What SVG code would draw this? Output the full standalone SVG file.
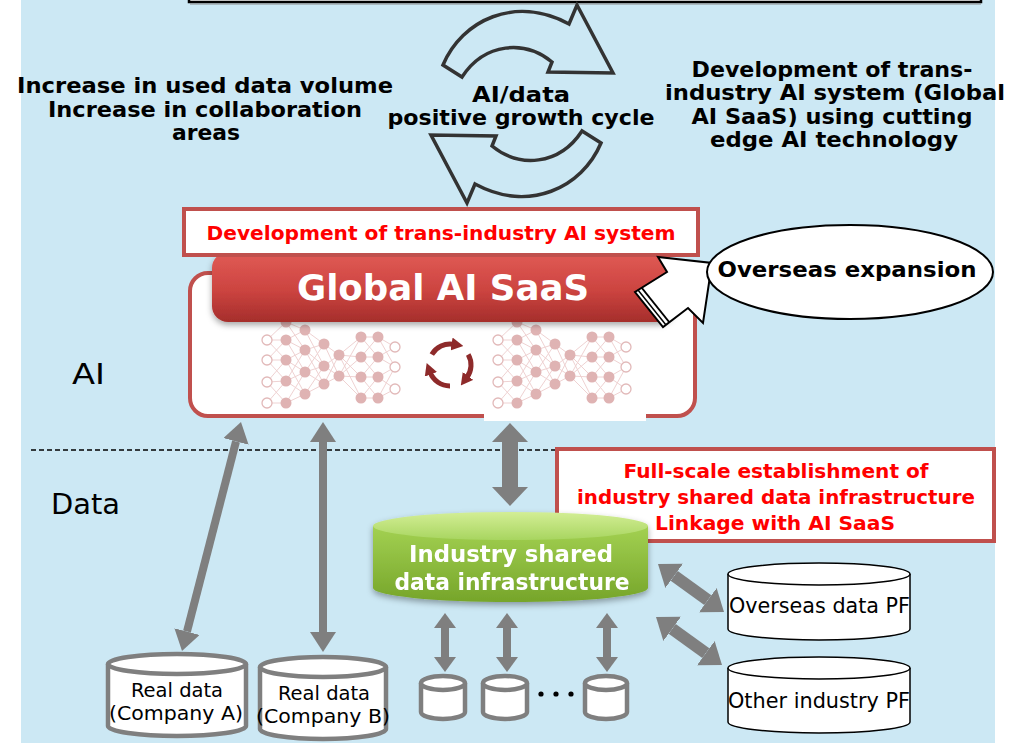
<svg xmlns="http://www.w3.org/2000/svg" width="1009" height="743" viewBox="0 0 1009 743">
  <defs>
    <style>
      .b { font-family: "DejaVu Sans", "Liberation Sans", sans-serif; font-weight: bold; }
      .n { font-family: "DejaVu Sans", "Liberation Sans", sans-serif; }
      .redbox { fill: #ffffff; stroke: #c0504d; stroke-width: 4; }
      .redtxt { fill: #ff0000; font-size: 20px; }
      .cycle { fill: #cce8f4; stroke: #333333; stroke-width: 3.5; stroke-linejoin: miter; }
      .conn { stroke: #7f7f7f; fill: none; }
      .gcyl { fill: #ffffff; stroke: #7f7f7f; stroke-width: 4.5; }
      .kcyl { fill: #ffffff; stroke: #000000; stroke-width: 1.5; }
      .nnl { stroke: #efd2d2; stroke-width: 1; fill: none; }
      .nnf { fill: #dfb3b3; }
      .nnh { fill: #ffffff; stroke: #e2b9b9; stroke-width: 1.3; }
    </style>
    <linearGradient id="barGrad" x1="0" y1="0" x2="0" y2="1">
      <stop offset="0" stop-color="#e15b56"/>
      <stop offset="0.55" stop-color="#cc4440"/>
      <stop offset="1" stop-color="#a52e2b"/>
    </linearGradient>
    <linearGradient id="greenBody" x1="0" y1="0" x2="0" y2="1">
      <stop offset="0" stop-color="#a3d152"/>
      <stop offset="1" stop-color="#76a52a"/>
    </linearGradient>
    <linearGradient id="greenCap" x1="0" y1="0" x2="0" y2="1">
      <stop offset="0" stop-color="#d3ee95"/>
      <stop offset="1" stop-color="#a8d560"/>
    </linearGradient>
    <filter id="shadow" x="-10%" y="-20%" width="120%" height="150%">
      <feDropShadow dx="0" dy="3" stdDeviation="3" flood-color="#000000" flood-opacity="0.35"/>
    </filter>
    <marker id="headL" markerUnits="userSpaceOnUse" markerWidth="20" markerHeight="26" refX="0" refY="13" orient="auto-start-reverse">
      <path d="M0,0 L20,13 L0,26 Z" fill="#7f7f7f"/>
    </marker>
    <marker id="headXL" markerUnits="userSpaceOnUse" markerWidth="19" markerHeight="36" refX="0" refY="18" orient="auto-start-reverse">
      <path d="M0,0 L19,18 L0,36 Z" fill="#7f7f7f"/>
    </marker>
    <marker id="headS" markerUnits="userSpaceOnUse" markerWidth="15" markerHeight="22" refX="0" refY="11" orient="auto-start-reverse">
      <path d="M0,0 L15,11 L0,22 Z" fill="#7f7f7f"/>
    </marker>
    <marker id="headD" markerUnits="userSpaceOnUse" markerWidth="20" markerHeight="30" refX="0" refY="15" orient="auto-start-reverse">
      <path d="M0,0 L20,15 L0,30 Z" fill="#7f7f7f"/>
    </marker>
    <marker id="spin" markerUnits="userSpaceOnUse" markerWidth="12" markerHeight="13" refX="2" refY="6.5" orient="auto">
      <path d="M0,0 L12,6.5 L0,13 Z" fill="#8e2a2a"/>
    </marker>
    <!-- faint neural network motif -->
    <g id="nn">
      <path class="nnl" d="M267,340L286,322 M267,340L286,340 M267,340L286,360 M267,360L286,340 M267,360L286,360 M267,360L286,381 M267,382L286,360 M267,382L286,381 M267,382L286,403 M267,403L286,381 M267,403L286,403
        M286,322L305,330 M286,322L305,350 M286,340L305,330 M286,340L305,350 M286,340L305,372 M286,360L305,350 M286,360L305,372 M286,360L305,394 M286,381L305,350 M286,381L305,372 M286,381L305,394 M286,403L305,372 M286,403L305,394
        M305,330L324,344 M305,330L324,366 M305,350L324,344 M305,350L324,366 M305,350L324,384 M305,372L324,344 M305,372L324,366 M305,372L324,384 M305,394L324,366 M305,394L324,384
        M324,344L339,355 M324,344L339,376 M324,366L339,355 M324,366L339,376 M324,384L339,355 M324,384L339,376
        M339,355L361,337 M339,355L361,357 M339,355L361,377 M339,355L361,398 M339,376L361,337 M339,376L361,357 M339,376L361,377 M339,376L361,398
        M361,337L378,337 M361,337L378,357 M361,357L378,337 M361,357L378,357 M361,357L378,377 M361,377L378,357 M361,377L378,377 M361,377L378,398 M361,398L378,377 M361,398L378,398
        M378,337L395,347 M378,337L395,367 M378,357L395,347 M378,357L395,367 M378,377L395,367 M378,377L395,389 M378,398L395,367 M378,398L395,389"/>
      <g class="nnh">
        <circle cx="267" cy="340" r="5"/><circle cx="267" cy="360" r="5"/><circle cx="267" cy="382" r="5"/><circle cx="267" cy="403" r="5"/>
        <circle cx="395" cy="347" r="5"/><circle cx="395" cy="367" r="5"/><circle cx="395" cy="389" r="5"/>
      </g>
      <g class="nnf">
        <circle cx="286" cy="322" r="5.5"/><circle cx="286" cy="340" r="5.5"/><circle cx="286" cy="360" r="5.5"/><circle cx="286" cy="381" r="5.5"/><circle cx="286" cy="403" r="5.5"/>
        <circle cx="305" cy="330" r="5.5"/><circle cx="305" cy="350" r="5.5"/><circle cx="305" cy="372" r="5.5"/><circle cx="305" cy="394" r="5.5"/>
        <circle cx="324" cy="344" r="5.5"/><circle cx="324" cy="366" r="5.5"/><circle cx="324" cy="384" r="5.5"/>
        <circle cx="339" cy="355" r="5.5"/><circle cx="339" cy="376" r="5.5"/>
        <circle cx="361" cy="337" r="5.5"/><circle cx="361" cy="357" r="5.5"/><circle cx="361" cy="377" r="5.5"/><circle cx="361" cy="398" r="5.5"/>
        <circle cx="378" cy="337" r="5.5"/><circle cx="378" cy="357" r="5.5"/><circle cx="378" cy="377" r="5.5"/><circle cx="378" cy="398" r="5.5"/>
      </g>
    </g>
  </defs>

  <!-- background panel -->
  <rect x="0" y="0" width="1009" height="743" fill="#ffffff"/>
  <rect x="21" y="0" width="974" height="743" fill="#cce8f4"/>

  <!-- heading frame cut off at the top edge -->
  <g id="top-frame">
    <rect x="189" y="-10" width="792" height="12" fill="#ffffff" stroke="#000000" stroke-width="2.5"/>
    <line x1="190" y1="4" x2="981" y2="4" stroke="#8a8a8a" stroke-width="1"/>
  </g>

  <!-- AI/data growth cycle -->
  <g id="growth-cycle">
    <path class="cycle" d="M443,65 C462,20 515,-5 569,24 L577,5 L613,73 L548,72 L552,62 C525,40 485,42 462,77 Z"/>
    <path class="cycle" transform="rotate(180 522 104)" d="M443,65 C462,20 515,-5 569,24 L577,5 L613,73 L548,72 L552,62 C525,40 485,42 462,77 Z"/>
    <text class="b" font-size="21" text-anchor="middle" x="521" y="102" textLength="98" lengthAdjust="spacingAndGlyphs">AI/data</text>
    <text class="b" font-size="21" text-anchor="middle" x="521" y="125" textLength="267" lengthAdjust="spacingAndGlyphs">positive growth cycle</text>
  </g>

  <g id="left-note">
    <text class="b" font-size="22" text-anchor="middle" x="205" y="93" textLength="376" lengthAdjust="spacingAndGlyphs">Increase in used data volume</text>
    <text class="b" font-size="22" text-anchor="middle" x="205" y="117" textLength="314" lengthAdjust="spacingAndGlyphs">Increase in collaboration</text>
    <text class="b" font-size="22" text-anchor="middle" x="206" y="140" textLength="68" lengthAdjust="spacingAndGlyphs">areas</text>
  </g>

  <g id="right-note">
    <text class="b" font-size="22" text-anchor="middle" x="832" y="77" textLength="281" lengthAdjust="spacingAndGlyphs">Development of trans-</text>
    <text class="b" font-size="22" text-anchor="middle" x="835" y="100" textLength="340" lengthAdjust="spacingAndGlyphs">industry AI system (Global</text>
    <text class="b" font-size="22" text-anchor="middle" x="832" y="124" textLength="281" lengthAdjust="spacingAndGlyphs">AI SaaS) using cutting</text>
    <text class="b" font-size="22" text-anchor="middle" x="834" y="147" textLength="248" lengthAdjust="spacingAndGlyphs">edge AI technology</text>
  </g>

  <!-- AI layer container -->
  <g id="ai-saas">
    <rect x="190" y="273" width="505" height="143" rx="18" fill="#ffffff" stroke="#c0504d" stroke-width="4"/>
    <rect x="484" y="405" width="162" height="16" fill="#ffffff"/>
    <use href="#nn"/>
    <use href="#nn" transform="translate(231 0)"/>
    <g fill="none" stroke="#8e2a2a" stroke-width="5">
      <path d="M431.8,354.5 A21,21 0 0 1 453.5,344.3" marker-end="url(#spin)"/>
      <path d="M468.2,354.5 A21,21 0 0 1 466.8,377.6" marker-end="url(#spin)"/>
      <path d="M450,386 A21,21 0 0 1 430.2,372.4" marker-end="url(#spin)"/>
    </g>
    <rect x="212" y="252" width="462" height="70" rx="16" fill="url(#barGrad)" filter="url(#shadow)"/>
    <text class="b" font-size="36" fill="#ffffff" text-anchor="middle" x="443" y="300" textLength="292" lengthAdjust="spacingAndGlyphs">Global AI SaaS</text>
  </g>

  <g id="ai-label">
    <rect class="redbox" x="184" y="209" width="514" height="46"/>
    <text class="b redtxt" text-anchor="middle" x="441" y="240" textLength="469" lengthAdjust="spacingAndGlyphs">Development of trans-industry AI system</text>
  </g>

  <!-- overseas expansion callout -->
  <g id="overseas">
    <polygon points="658,257 712,263 703,323 688,308 663,327 635,292 667,272" fill="#ffffff" stroke="#000000" stroke-width="2" stroke-linejoin="miter"/>
    <line x1="638" y1="290" x2="666" y2="325" stroke="#000000" stroke-width="1.5"/>
    <line x1="641.5" y1="287.5" x2="669.5" y2="322.5" stroke="#000000" stroke-width="2"/>
    <ellipse cx="850" cy="272" rx="143" ry="47" fill="#ffffff" stroke="#000000" stroke-width="2"/>
    <text class="b" font-size="22" text-anchor="middle" x="847" y="277" textLength="259" lengthAdjust="spacingAndGlyphs">Overseas expansion</text>
  </g>

  <!-- layer labels and divider -->
  <g id="layers">
    <line x1="31" y1="450" x2="556" y2="450" stroke="#000000" stroke-width="1.5" stroke-dasharray="5,3"/>
    <text class="n" font-size="28" x="72" y="384" textLength="33" lengthAdjust="spacingAndGlyphs">AI</text>
    <text class="n" font-size="28" x="51" y="514" textLength="69" lengthAdjust="spacingAndGlyphs">Data</text>
  </g>

  <!-- connectors -->
  <g id="connectors" class="conn">
    <line x1="236" y1="441.4" x2="187" y2="631.6" stroke-width="8" marker-start="url(#headL)" marker-end="url(#headL)"/>
    <line x1="323" y1="442" x2="323" y2="632" stroke-width="8" marker-start="url(#headL)" marker-end="url(#headL)"/>
    <line x1="510" y1="442" x2="510" y2="487" stroke-width="16" marker-start="url(#headXL)" marker-end="url(#headXL)"/>
    <line x1="445" y1="628" x2="445" y2="657" stroke-width="8" marker-start="url(#headS)" marker-end="url(#headS)"/>
    <line x1="507" y1="628" x2="507" y2="657" stroke-width="8" marker-start="url(#headS)" marker-end="url(#headS)"/>
    <line x1="607" y1="628" x2="607" y2="657" stroke-width="8" marker-start="url(#headS)" marker-end="url(#headS)"/>
    <line x1="674.2" y1="575.8" x2="707.8" y2="600.2" stroke-width="12" marker-start="url(#headD)" marker-end="url(#headD)"/>
    <line x1="672.2" y1="628.8" x2="705.8" y2="653.2" stroke-width="12" marker-start="url(#headD)" marker-end="url(#headD)"/>
  </g>

  <g id="data-label">
    <rect class="redbox" x="557" y="449" width="437" height="92"/>
    <text class="b redtxt" text-anchor="middle" x="776" y="478" textLength="305" lengthAdjust="spacingAndGlyphs">Full-scale establishment of</text>
    <text class="b redtxt" text-anchor="middle" x="776" y="504" textLength="398" lengthAdjust="spacingAndGlyphs">industry shared data infrastructure</text>
    <text class="b redtxt" text-anchor="middle" x="775" y="530" textLength="240" lengthAdjust="spacingAndGlyphs">Linkage with AI SaaS</text>
  </g>

  <!-- shared data infrastructure -->
  <g id="shared-infra" filter="url(#shadow)">
    <path d="M373,526 L373,588 A137.5,14 0 0 0 648,588 L648,526 Z" fill="url(#greenBody)"/>
    <ellipse cx="510.5" cy="526" rx="137.5" ry="14" fill="url(#greenCap)"/>
    <text class="b" font-size="23" fill="#ffffff" text-anchor="middle" x="511" y="562" textLength="204" lengthAdjust="spacingAndGlyphs">Industry shared</text>
    <text class="b" font-size="23" fill="#ffffff" text-anchor="middle" x="512" y="590" textLength="235" lengthAdjust="spacingAndGlyphs">data infrastructure</text>
  </g>

  <g id="real-data-a">
    <path class="gcyl" d="M108,664 L108,726 A69,10 0 0 0 246,726 L246,664"/>
    <ellipse class="gcyl" cx="177" cy="664" rx="69" ry="10"/>
    <text class="n" font-size="19.5" text-anchor="middle" x="177" y="697">Real data</text>
    <text class="n" font-size="19.5" text-anchor="middle" x="176" y="720" textLength="134" lengthAdjust="spacingAndGlyphs">(Company A)</text>
  </g>

  <g id="real-data-b">
    <path class="gcyl" d="M260,667 L260,729 A63,10 0 0 0 386,729 L386,667"/>
    <ellipse class="gcyl" cx="323" cy="667" rx="63" ry="10"/>
    <text class="n" font-size="19.5" text-anchor="middle" x="324" y="700">Real data</text>
    <text class="n" font-size="19.5" text-anchor="middle" x="323" y="723" textLength="134" lengthAdjust="spacingAndGlyphs">(Company B)</text>
  </g>

  <g id="store-1">
    <path class="gcyl" d="M421,683 L421,712 A22,7 0 0 0 465,712 L465,683"/>
    <ellipse class="gcyl" cx="443" cy="683" rx="22" ry="7"/>
  </g>
  <g id="store-2">
    <path class="gcyl" d="M483,683 L483,712 A22,7 0 0 0 527,712 L527,683"/>
    <ellipse class="gcyl" cx="505" cy="683" rx="22" ry="7"/>
  </g>
  <g id="store-ellipsis" fill="#000000">
    <circle cx="541" cy="694" r="2.6"/>
    <circle cx="556" cy="694" r="2.6"/>
    <circle cx="571" cy="694" r="2.6"/>
  </g>
  <g id="store-n">
    <path class="gcyl" d="M585,683 L585,712 A21,7 0 0 0 627,712 L627,683"/>
    <ellipse class="gcyl" cx="606" cy="683" rx="21" ry="7"/>
  </g>

  <g id="overseas-pf">
    <path class="kcyl" d="M728,574 L728,629 A91,11 0 0 0 910,629 L910,574"/>
    <ellipse class="kcyl" cx="819" cy="574" rx="91" ry="11"/>
    <text class="n" font-size="20.5" x="729" y="613" textLength="181" lengthAdjust="spacingAndGlyphs">Overseas data PF</text>
  </g>

  <g id="other-industry-pf">
    <path class="kcyl" d="M728,668 L728,722 A91,11 0 0 0 910,722 L910,668"/>
    <ellipse class="kcyl" cx="819" cy="668" rx="91" ry="11"/>
    <text class="n" font-size="20.5" x="728" y="708" textLength="182" lengthAdjust="spacingAndGlyphs">Other industry PF</text>
  </g>
</svg>
